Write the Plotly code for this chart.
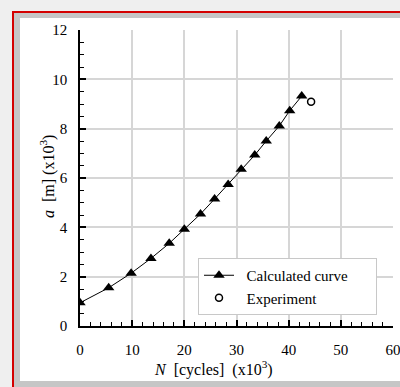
import plotly.graph_objects as go

# Calculated crack growth curve (N in x10^3 cycles, a in x10^-3 m)
calc_N = [0, 5.5, 9.8, 13.6, 17.1, 20.0, 23.1, 25.8, 28.4, 30.9, 33.5, 35.7, 38.2, 40.2, 42.5]
calc_a = [0.94, 1.55, 2.14, 2.74, 3.35, 3.92, 4.54, 5.15, 5.74, 6.35, 6.93, 7.50, 8.11, 8.73, 9.32]
# Experimental point
exp_N = [44.3]
exp_a = [9.09]

x_ticks = [0, 10, 20, 30, 40, 50, 60]
y_ticks = [0, 2, 4, 6, 8, 10, 12]

W, H = 400, 387
ML, MR, MT, MB = 80, 7, 30, 61
PW, PH = W - ML - MR, H - MT - MB


def px(x):
    return (x - ML) / PW


def py(y):
    return (H - MB - y) / PH


SERIF = "Liberation Serif, Times New Roman, serif"
NB = "\u00a0"

fig = go.Figure()
fig.add_trace(go.Scatter(
    x=calc_N, y=calc_a, mode="lines+markers",
    name=NB * 2 + "Calculated curve" + NB * 6,
    line=dict(color="black", width=1),
    marker=dict(symbol="triangle-up", size=10, color="black"),
))
fig.add_trace(go.Scatter(
    x=exp_N, y=exp_a, mode="markers",
    name=NB * 2 + "Experiment",
    marker=dict(symbol="circle-open", size=7, color="black", line=dict(width=1.5, color="black")),
))

shapes = [
    # gray frame band with red border
    dict(type="rect", xref="paper", yref="paper", layer="below",
         x0=px(13), x1=px(430), y0=py(12), y1=py(400),
         fillcolor="#c6c6c6", line=dict(color="#d40000", width=2)),
    # inner white panel
    dict(type="rect", xref="paper", yref="paper", layer="below",
         x0=px(20), x1=px(430), y0=py(18), y1=py(381),
         fillcolor="white", line=dict(width=0)),
]

fig.update_layout(
    template="none",
    width=W, height=H,
    margin=dict(l=ML, r=MR, t=MT, b=MB),
    paper_bgcolor="#efefef",
    plot_bgcolor="white",
    font=dict(family=SERIF, size=15, color="black"),
    showlegend=True,
    legend=dict(
        x=px(198), y=py(315), xanchor="left", yanchor="bottom",
        bgcolor="white", bordercolor="#c8c8c8", borderwidth=1,
        font=dict(family=SERIF, size=15, color="black"),
        tracegroupgap=0,
    ),
    shapes=shapes,
    annotations=[
        dict(text="<i>N</i>  [cycles]  (x10<sup>3</sup>)", xref="paper", yref="paper",
             x=px(213), y=py(368), xanchor="center", yanchor="middle", showarrow=False,
             font=dict(family=SERIF, size=16, color="black")),
        dict(text="<i>a</i>  [m] (x10<sup>3</sup>)", xref="paper", yref="paper",
             x=px(47), y=py(177), xanchor="center", yanchor="middle", showarrow=False,
             textangle=-90, font=dict(family=SERIF, size=16, color="black")),
    ],
)

fig.update_xaxes(
    range=[0, 60], tickvals=x_ticks, ticktext=[str(v) for v in x_ticks],
    showgrid=True, gridcolor="#d6d6d6", gridwidth=1.5, zeroline=False,
    showline=True, linecolor="black", linewidth=1.5,
    ticks="inside", ticklen=6, tickwidth=1.5, tickcolor="black",
    minor=dict(dtick=2, ticks="inside", ticklen=4, tickwidth=1, tickcolor="black", showgrid=False),
    tickfont=dict(family=SERIF, size=15, color="black"), ticklabelstandoff=9,
    ticklabeloverflow="allow",
)
fig.update_yaxes(
    range=[0, 12], tickvals=y_ticks, ticktext=[str(v) for v in y_ticks],
    showgrid=True, gridcolor="#d6d6d6", gridwidth=1.5, zeroline=False,
    showline=True, linecolor="black", linewidth=1.5,
    ticks="inside", ticklen=6, tickwidth=1.5, tickcolor="black",
    minor=dict(dtick=0.5, ticks="inside", ticklen=4, tickwidth=1, tickcolor="black", showgrid=False),
    tickfont=dict(family=SERIF, size=15, color="black"), ticklabelstandoff=8,
    ticklabeloverflow="allow",
)

fig.write_html("out.html")
